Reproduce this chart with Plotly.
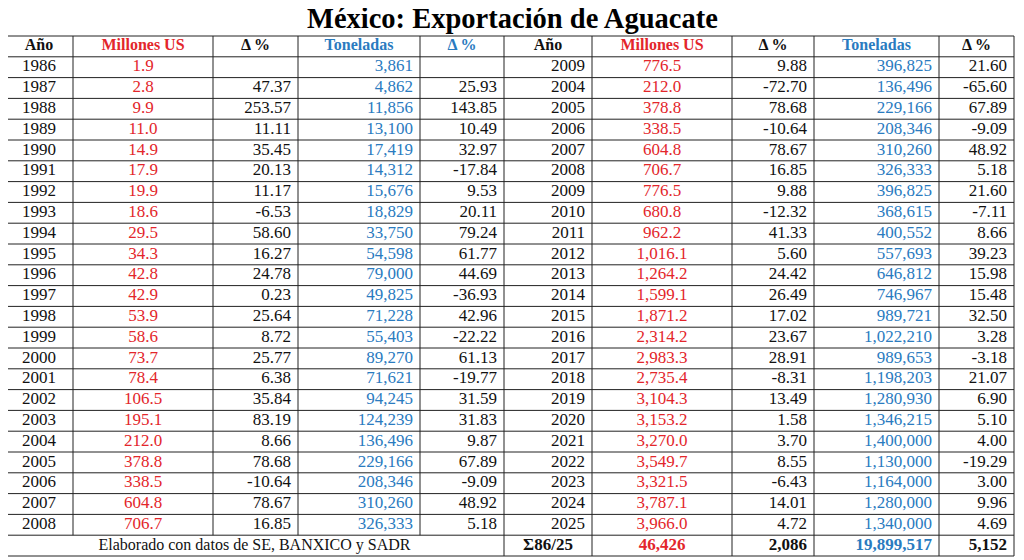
import plotly.graph_objects as go

# ---------------- data ----------------
title_text = "México: Exportación de Aguacate"
col_headers = ["Año", "Millones US", "Δ %", "Toneladas", "Δ %",
               "Año", "Millones US", "Δ %", "Toneladas", "Δ %"]

years_left = list(range(1986, 2009))
mill_left = [1.9, 2.8, 9.9, 11.0, 14.9, 17.9, 19.9, 18.6, 29.5, 34.3, 42.8, 42.9,
             53.9, 58.6, 73.7, 78.4, 106.5, 195.1, 212.0, 378.8, 338.5, 604.8, 706.7]
dmill_left = [None, 47.37, 253.57, 11.11, 35.45, 20.13, 11.17, -6.53, 58.60, 16.27,
              24.78, 0.23, 25.64, 8.72, 25.77, 6.38, 35.84, 83.19, 8.66, 78.68,
              -10.64, 78.67, 16.85]
ton_left = [3861, 4862, 11856, 13100, 17419, 14312, 15676, 18829, 33750, 54598,
            79000, 49825, 71228, 55403, 89270, 71621, 94245, 124239, 136496,
            229166, 208346, 310260, 326333]
dton_left = [None, 25.93, 143.85, 10.49, 32.97, -17.84, 9.53, 20.11, 79.24, 61.77,
             44.69, -36.93, 42.96, -22.22, 61.13, -19.77, 31.59, 31.83, 9.87,
             67.89, -9.09, 48.92, 5.18]

years_right = [2009, 2004, 2005, 2006, 2007, 2008, 2009, 2010, 2011, 2012, 2013,
               2014, 2015, 2016, 2017, 2018, 2019, 2020, 2021, 2022, 2023, 2024, 2025]
mill_right = [776.5, 212.0, 378.8, 338.5, 604.8, 706.7, 776.5, 680.8, 962.2,
              1016.1, 1264.2, 1599.1, 1871.2, 2314.2, 2983.3, 2735.4, 3104.3,
              3153.2, 3270.0, 3549.7, 3321.5, 3787.1, 3966.0]
dmill_right = [9.88, -72.70, 78.68, -10.64, 78.67, 16.85, 9.88, -12.32, 41.33,
               5.60, 24.42, 26.49, 17.02, 23.67, 28.91, -8.31, 13.49, 1.58, 3.70,
               8.55, -6.43, 14.01, 4.72]
ton_right = [396825, 136496, 229166, 208346, 310260, 326333, 396825, 368615,
             400552, 557693, 646812, 746967, 989721, 1022210, 989653, 1198203,
             1280930, 1346215, 1400000, 1130000, 1164000, 1280000, 1340000]
dton_right = [21.60, -65.60, 67.89, -9.09, 48.92, 5.18, 21.60, -7.11, 8.66,
              39.23, 15.98, 15.48, 32.50, 3.28, -3.18, 21.07, 6.90, 5.10, 4.00,
              -19.29, 3.00, 9.96, 4.69]

footer_note = "Elaborado con datos de SE, BANXICO y SADR"
total_label = "Σ86/25"
total_mill = 46426
total_dmill = 2086
total_ton = 19899517
total_dton = 5152

# ---------------- styling ----------------
RED = "#e3262b"
BLUE = "#2a7bbf"
BLACK = "#111111"
FONT = "Liberation Serif"
PAGE_W, PAGE_H = 1024, 560
OFF = 8                       # default page (body) margin of the browser
W, H = PAGE_W - OFF, PAGE_H - OFF
col_edges = [5, 73, 213, 298, 420, 504, 592, 732, 814, 939, 1014]
ROW_H = 20.8          # pixel height of one table row
TOP = 36              # pixel top of the table on the page
PAD = 7               # right padding for right-aligned cells
CELL_SIZE = 17
HEAD_SIZE = 16
FOOT_NOTE_SIZE = 16
TITLE_SIZE = 28.5


def f1(v):
    return "" if v is None else f"{v:,.1f}"


def f2(v):
    return "" if v is None else f"{v:.2f}"


def fi(v):
    return "" if v is None else f"{v:,.0f}"


columns = [
    [str(y) for y in years_left],
    [f1(v) for v in mill_left],
    [f2(v) for v in dmill_left],
    [fi(v) for v in ton_left],
    [f2(v) for v in dton_left],
    [str(y) for y in years_right],
    [f1(v) for v in mill_right],
    [f2(v) for v in dmill_right],
    [fi(v) for v in ton_right],
    [f2(v) for v in dton_right],
]
header_colors = [BLACK, RED, BLACK, BLUE, BLUE, BLACK, RED, BLACK, BLUE, BLACK]
cell_colors = [BLACK, RED, BLACK, BLUE, BLACK, BLACK, RED, BLACK, BLUE, BLACK]
cell_align = ["center", "center", "right", "right", "right",
              "right", "center", "right", "right", "right"]

n_rows = len(years_left)
footer_row = n_rows + 1


def anchor_x(j, align):
    if align == "center":
        return (col_edges[j] + col_edges[j + 1]) / 2
    return col_edges[j + 1] - PAD


def text_pos(align):
    return "middle center" if align == "center" else "middle left"


fig = go.Figure()

# header row (row 0)
for j, h in enumerate(col_headers):
    fig.add_trace(go.Scatter(
        x=[anchor_x(j, "center")], y=[0], mode="text", text=[h],
        textposition="middle center", hoverinfo="skip",
        textfont=dict(family=FONT, size=HEAD_SIZE, color=header_colors[j],
                      weight="bold"),
    ))

# data rows (rows 1..n)
row_index = list(range(1, n_rows + 1))
for j, col in enumerate(columns):
    a = cell_align[j]
    fig.add_trace(go.Scatter(
        x=[anchor_x(j, a)] * n_rows, y=row_index, mode="text", text=col,
        textposition=text_pos(a), hoverinfo="skip",
        textfont=dict(family=FONT, size=CELL_SIZE, color=cell_colors[j]),
    ))

# footer row
footer_texts = [total_label, f"{total_mill:,}", f"{total_dmill:,}",
                f"{total_ton:,}", f"{total_dton:,}"]
footer_colors = [BLACK, RED, BLACK, BLUE, BLACK]
footer_align = ["center", "center", "right", "right", "right"]
fig.add_trace(go.Scatter(
    x=[(col_edges[0] + col_edges[5]) / 2], y=[footer_row], mode="text",
    text=[footer_note], textposition="middle center", hoverinfo="skip",
    textfont=dict(family=FONT, size=FOOT_NOTE_SIZE, color=BLACK),
))
for k, t in enumerate(footer_texts):
    j = 5 + k
    a = footer_align[k]
    fig.add_trace(go.Scatter(
        x=[anchor_x(j, a)], y=[footer_row], mode="text", text=[t],
        textposition=text_pos(a), hoverinfo="skip",
        textfont=dict(family=FONT, size=CELL_SIZE, color=footer_colors[k],
                      weight="bold"),
    ))

# grid lines
shapes = []
line_style = dict(color="#222222", width=1)
for k in range(0, footer_row + 2):
    y = k - 0.5
    shapes.append(dict(type="line", xref="x", yref="y", x0=col_edges[0],
                       x1=col_edges[-1], y0=y, y1=y, line=line_style,
                       layer="below"))
for j, xe in enumerate(col_edges):
    y_end = footer_row + 0.5 if (j == 0 or j >= 5) else footer_row - 0.5
    shapes.append(dict(type="line", xref="x", yref="y", x0=xe, x1=xe,
                       y0=-0.5, y1=y_end, line=line_style, layer="below"))

# axes expressed in page pixels (x) and table rows (y)
y_top = -0.5 - (TOP - OFF) / ROW_H
y_bottom = y_top + H / ROW_H

fig.add_annotation(
    text=f"<b>{title_text}</b>",
    xref="paper", yref="paper", x=(PAGE_W / 2 - OFF) / W, y=1,
    xanchor="center", yanchor="top", showarrow=False,
    font=dict(family=FONT, size=TITLE_SIZE, color="black"),
    borderpad=0, yshift=6,
)

fig.update_layout(
    width=W, height=H,
    margin=dict(l=0, r=0, t=0, b=0),
    paper_bgcolor="white",
    plot_bgcolor="white",
    showlegend=False,
    shapes=shapes,
    xaxis=dict(range=[OFF, PAGE_W], visible=False, fixedrange=True),
    yaxis=dict(range=[y_bottom, y_top], visible=False, fixedrange=True),
)

fig.write_html("out.html", config={"displayModeBar": False})
